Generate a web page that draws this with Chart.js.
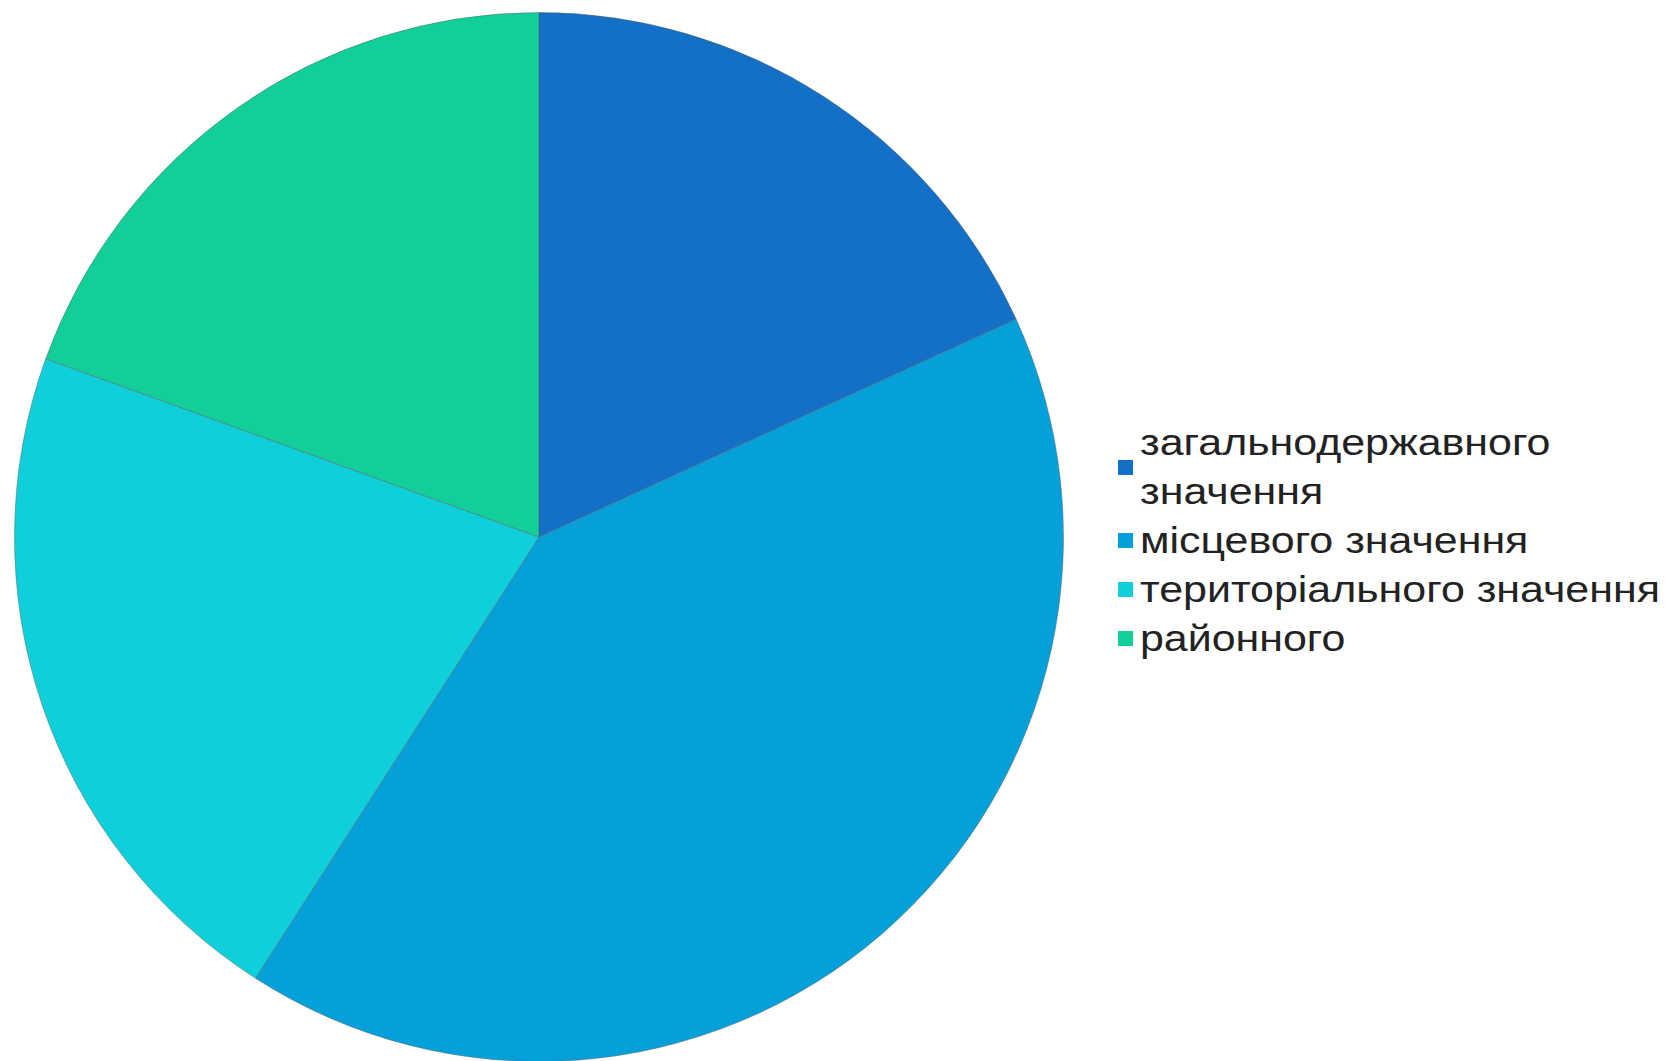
<!DOCTYPE html>
<html>
<head>
<meta charset="utf-8">
<script src="https://cdn.jsdelivr.net/npm/chart.js@4/dist/chart.umd.min.js"></script>
<style>
  html, body { margin: 0; padding: 0; background: #ffffff; overflow: hidden; }
  body { width: 1667px; height: 1061px; position: relative; }
  #wrap { position: absolute; left: 14px; top: 12px; width: 1050px; height: 1050px; }
  #legend { position: absolute; left: 1118px; top: 418px; font-family: "Liberation Sans", Arial, sans-serif; font-size: 37px; color: #222222; line-height: 49px; }
  .item { display: flex; align-items: center; }
  .box { width: 15px; height: 15px; margin-right: 7px; flex: 0 0 auto; }
  .txt { display: inline-block; transform: scaleX(1.16); transform-origin: left center; white-space: nowrap; }
</style>
</head>
<body>
<div id="wrap"><canvas id="c"></canvas></div>
<div id="legend"></div>
<script>
const categories = ["загальнодержавного значення", "місцевого значення", "територіального значення", "районного"];
const legendLines = [["загальнодержавного", "значення"], ["місцевого значення"], ["територіального значення"], ["районного"]];
const values = [28, 63, 33, 30];
const colors = ["#1470c6", "#05a0da", "#0fcfdb", "#12cf99"];

new Chart(document.getElementById('c'), {
  type: 'pie',
  data: {
    labels: categories,
    datasets: [{
      data: values,
      backgroundColor: colors,
      borderColor: 'rgba(90,90,90,0.45)',
      borderWidth: 1
    }]
  },
  options: {
    responsive: true,
    maintainAspectRatio: false,
    animation: false,
    layout: { padding: 0 },
    plugins: { legend: { display: false }, tooltip: { enabled: false } }
  }
});

const leg = document.getElementById('legend');
legendLines.forEach((lines, i) => {
  const row = document.createElement('div');
  row.className = 'item';
  const box = document.createElement('span');
  box.className = 'box';
  box.style.background = colors[i];
  const txt = document.createElement('span');
  txt.className = 'txt';
  txt.innerHTML = lines.join('<br>');
  row.appendChild(box);
  row.appendChild(txt);
  leg.appendChild(row);
});
</script>
</body>
</html>
